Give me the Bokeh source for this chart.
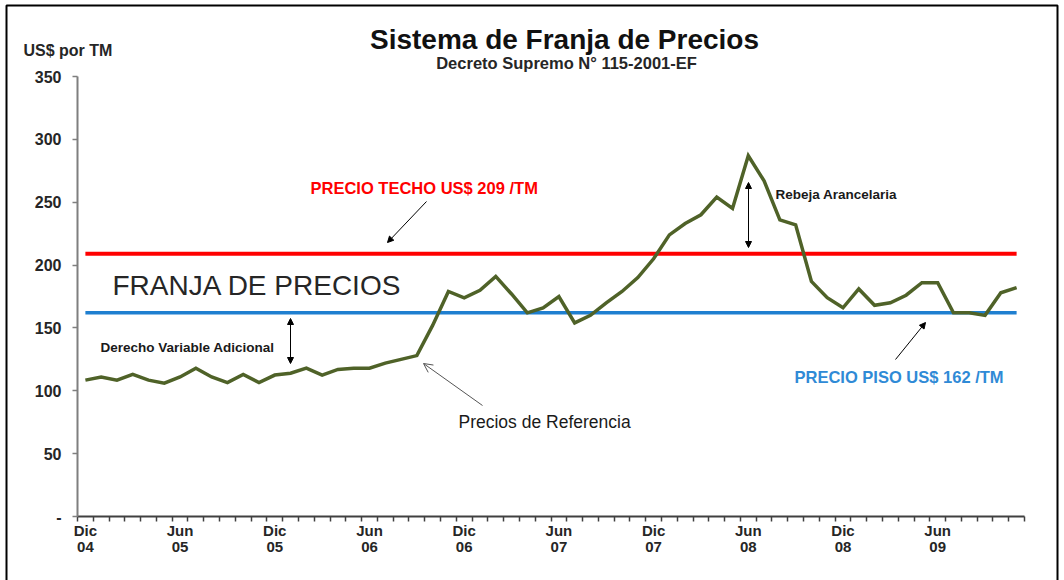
from bokeh.plotting import figure
from bokeh.models import Range1d, FixedTicker, Label, Arrow, NormalHead, OpenHead, LinearAxis
from bokeh.embed import file_html
from bokeh.resources import INLINE

# ---------------- data ----------------
month_names = ["Dic", "Ene", "Feb", "Mar", "Abr", "May", "Jun", "Jul", "Ago", "Set", "Oct", "Nov"]
# categories: Dic 04 ... Nov 09 (60 months)
categories = []
for k in range(60):
    m = month_names[k % 12]
    yr = 4 + (k + 11) // 12
    categories.append(f"{m} {yr:02d}")

precios_referencia = [108.5, 111, 108.5, 113, 108.5, 106, 111, 118, 111, 106.5,
                      113, 106.5, 112.5, 114, 118, 112.5, 117, 118, 118, 122,
                      125, 128, 152, 179, 174, 180, 191, 177, 162, 166,
                      175, 154, 160, 170, 179, 190, 205, 224, 233, 240,
                      254, 245, 287, 267, 236, 232, 187, 174, 166, 181,
                      168, 170, 176, 186, 186, 162, 162, 160, 178, 182]

precio_techo = 209
precio_piso = 162

tick_labels = ["Dic\n04", "Jun\n05", "Dic\n05", "Jun\n06", "Dic\n06",
               "Jun\n07", "Dic\n07", "Jun\n08", "Dic\n08", "Jun\n09"]
tick_index = [categories.index(t.replace("\n", " ")) for t in tick_labels]

y_ticks = [0, 50, 100, 150, 200, 250, 300, 350]
y_tick_labels = ["-", "50", "100", "150", "200", "250", "300", "350"]

# ---------------- layout ----------------
W, H = 1064, 580
N = len(categories)
FONT = "Liberation Sans"
# where the axes box sits on the page (pixels)
AX_L, AX_R, AX_T, AX_B = 77, 1024, 76, 516
XS = (AX_R - AX_L) / N            # px per category
YS = (AX_B - AX_T) / 350.0        # px per US$
x0 = -0.5 - AX_L / XS
x1 = x0 + W / XS
y0 = -(H - AX_B) / YS
y1 = y0 + H / YS

def dx(px):
    return x0 + px / XS
def dy(py):
    return y0 + (H - py) / YS

p = figure(width=W, height=H, output_backend="svg", toolbar_location=None,
           x_range=Range1d(x0, x1), y_range=Range1d(y0, y1),
           x_axis_location=None, y_axis_location=None,
           min_border_left=0, min_border_right=0,
           min_border_top=0, min_border_bottom=0)
p.outline_line_color = None
p.grid.visible = False
p.background_fill_color = "white"
p.border_fill_color = "white"

# outer chart border
p.quad(left=[dx(6)], right=[dx(1057)], top=[dy(5)], bottom=[dy(585)],
       fill_color=None, line_color="black", line_width=2)

# axes
yax = LinearAxis(fixed_location=-0.5, bounds=(0, 350))
yax.ticker = FixedTicker(ticks=y_ticks, minor_ticks=[])
yax.major_label_overrides = {t: l for t, l in zip(y_ticks, y_tick_labels)}
yax.axis_line_color = "#7f7f7f"
yax.axis_line_width = 2
yax.major_tick_line_color = "#7f7f7f"
yax.major_tick_line_width = 1.5
yax.major_tick_out = 5
yax.major_tick_in = 0
yax.major_label_standoff = 11
yax.major_label_text_font = FONT
yax.major_label_text_font_style = "bold"
yax.major_label_text_font_size = "16px"
yax.major_label_text_color = "#262626"
p.add_layout(yax, "left")

xax = LinearAxis(fixed_location=0, bounds=(-0.5, N - 0.5))
xax.ticker = FixedTicker(ticks=tick_index,
                         minor_ticks=[i - 0.5 for i in range(N + 1)])
xax.major_label_overrides = {i: l for i, l in zip(tick_index, tick_labels)}
xax.axis_line_color = "#404040"
xax.axis_line_width = 2
xax.major_tick_out = 0
xax.major_tick_in = 0
xax.minor_tick_out = 5
xax.minor_tick_in = 0
xax.minor_tick_line_color = "#404040"
xax.minor_tick_line_width = 1.5
xax.major_label_standoff = 0
xax.major_label_text_font = FONT
xax.major_label_text_font_style = "bold"
xax.major_label_text_font_size = "15px"
xax.major_label_text_color = "#262626"
xax.major_label_text_line_height = 0.95
p.add_layout(xax, "below")

# band lines
ends = [0, N - 1]
p.line(ends, [precio_techo] * 2, line_color="#FF0000", line_width=4)
p.line(ends, [precio_piso] * 2, line_color="#1F7FD0", line_width=3.5)
# reference prices
p.line(list(range(N)), precios_referencia, line_color="#4F6228", line_width=3.5,
       line_join="miter")

# texts (positions = vertical centre of the capitals on the page)
def lab(text, px, py, size, color="#1a1a1a", bold=True, align="left"):
    p.add_layout(Label(x=dx(px), y=dy(py), text=text, text_align=align,
                       text_baseline="middle", text_font=FONT,
                       text_font_size=size, text_color=color,
                       text_font_style="bold" if bold else "normal"))

lab("Sistema de Franja de Precios", 564, 39, "28px", "#111111", True, "center")
lab("Decreto Supremo N° 115-2001-EF", 566, 62, "16.5px", "#262626", True, "center")
lab("US$ por TM", 23, 50, "16px", "#262626")
lab("PRECIO TECHO US$ 209 /TM", 310, 187, "16.5px", "#FF0000")
lab("FRANJA DE PRECIOS", 112, 285, "28px", "#262626", False)
lab("Derecho Variable Adicional", 100, 347, "13.5px", "#1a1a1a")
lab("Precios de Referencia", 458, 421, "17.5px", "#1a1a1a", False)
lab("Rebeja Arancelaria", 775, 194, "13.5px", "#1a1a1a")
lab("PRECIO PISO US$ 162 /TM", 794, 376, "16.5px", "#2F8AD6")

# arrows
def arrow(xa, ya, xb, yb, both=False, open_head=False, color="black"):
    if open_head:
        head = OpenHead(size=9, line_color=color, line_width=1)
    else:
        head = NormalHead(size=6, fill_color=color, line_color=color)
    start = NormalHead(size=6, fill_color=color, line_color=color) if both else None
    p.add_layout(Arrow(x_start=dx(xa), y_start=dy(ya), x_end=dx(xb), y_end=dy(yb),
                       end=head, start=start, line_color=color, line_width=1))

arrow(426, 201, 387, 242)
arrow(482, 405, 423, 363, open_head=True, color="#555555")
arrow(895, 359, 925, 322)
arrow(290, 318, 290, 363, both=True)
arrow(748, 182, 748, 247, both=True)

open("out.html", "w").write(file_html(p, INLINE))
